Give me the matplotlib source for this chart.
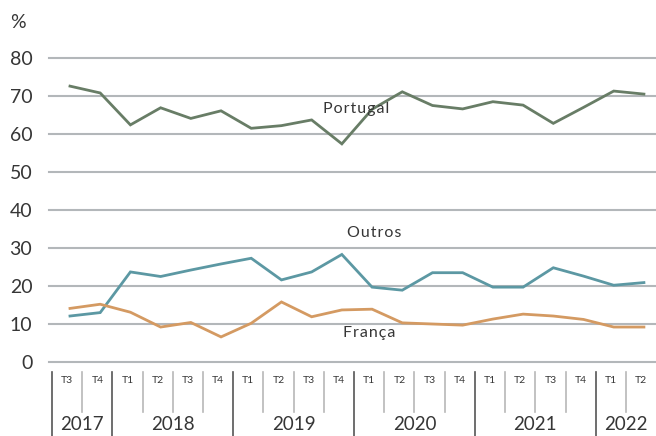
import matplotlib.pyplot as plt
from matplotlib.transforms import blended_transform_factory

plt.rcParams['font.family'] = ['Lato', 'DejaVu Sans']

years = ['2017', '2018', '2019', '2020', '2021', '2022']
quarters = ['T3', 'T4',
            'T1', 'T2', 'T3', 'T4',
            'T1', 'T2', 'T3', 'T4',
            'T1', 'T2', 'T3', 'T4',
            'T1', 'T2', 'T3', 'T4',
            'T1', 'T2']
quarters_per_year = [2, 4, 4, 4, 4, 2]

portugal = [72.6, 70.8, 62.4, 66.9, 64.1, 66.1, 61.5, 62.2, 63.7, 57.4,
            66.5, 71.1, 67.5, 66.6, 68.5, 67.6, 62.8, 67.0, 71.3, 70.5]
outros = [12.1, 13.0, 23.7, 22.5, 24.2, 25.8, 27.3, 21.6, 23.7, 28.3,
          19.7, 18.9, 23.5, 23.5, 19.7, 19.7, 24.8, 22.6, 20.2, 20.9]
franca = [14.1, 15.2, 13.1, 9.2, 10.4, 6.6, 10.2, 15.8, 11.9, 13.7,
          13.9, 10.3, 10.0, 9.7, 11.3, 12.6, 12.1, 11.2, 9.2, 9.2]

c_pt = '#687d66'
c_out = '#5c98a3'
c_fr = '#d49a62'
c_txt = '#363636'
c_grid = '#b3b7ba'

fig = plt.figure(figsize=(6.56, 4.36), dpi=100)
ax = fig.add_axes([49 / 656, 1 - 362 / 436, 1 - 49 / 656, 304 / 436])

x = list(range(len(quarters)))
ax.set_xlim(-0.695, 19.4)
ax.set_ylim(0, 80)

for v in range(0, 81, 10):
    ax.axhline(v, color=c_grid, lw=1.5, zorder=1, clip_on=False)

ax.plot(x, portugal, color=c_pt, lw=2.0, zorder=3, solid_joinstyle='miter')
ax.plot(x, outros, color=c_out, lw=2.0, zorder=3, solid_joinstyle='miter')
ax.plot(x, franca, color=c_fr, lw=2.0, zorder=3, solid_joinstyle='miter')

# spaced-out series labels
ax.text(9.47, 66.6, '\u200a'.join('Portugal'), color=c_txt, fontsize=11.5,
        ha='center', va='center', zorder=4)
ax.text(10.07, 33.9, '\u200a'.join('Outros'), color=c_txt, fontsize=11.5,
        ha='center', va='center', zorder=4)
ax.text(9.9, 7.6, '\u200a'.join('França'), color=c_txt, fontsize=11.5,
        ha='center', va='center', zorder=4)

for s in ax.spines.values():
    s.set_visible(False)
ax.set_xticks([])
ax.set_yticks(range(0, 81, 10))
ax.tick_params(axis='y', length=0, pad=12, labelsize=14, labelcolor=c_txt)

fig.text(10 / 656, 1 - 22 / 436, '%', fontsize=14, color=c_txt, va='center')

# quarter / year axis drawn under the plot area
trans = blended_transform_factory(ax.transData, ax.transAxes)
offset = -0.596
for k in range(len(quarters)):
    ax.text(k + offset + 0.5, -0.062, quarters[k], transform=trans, fontsize=7.5,
            color=c_txt, ha='center', va='center', clip_on=False)

year_edges = [0]
for n in quarters_per_year:
    year_edges.append(year_edges[-1] + n)

for k in range(len(quarters)):
    if k in year_edges:
        ax.plot([k + offset] * 2, [-0.033, -0.245], transform=trans, color='#555555',
                lw=1.2, clip_on=False)
    else:
        ax.plot([k + offset] * 2, [-0.033, -0.164], transform=trans, color='#b8b8b8',
                lw=1.2, clip_on=False)

for i, yr in enumerate(years):
    mid = (year_edges[i] + year_edges[i + 1]) / 2 + offset
    ax.text(mid, -0.207, yr, transform=trans, fontsize=13.5, color=c_txt,
            ha='center', va='center', clip_on=False)

fig.savefig('out.png', dpi=100)
